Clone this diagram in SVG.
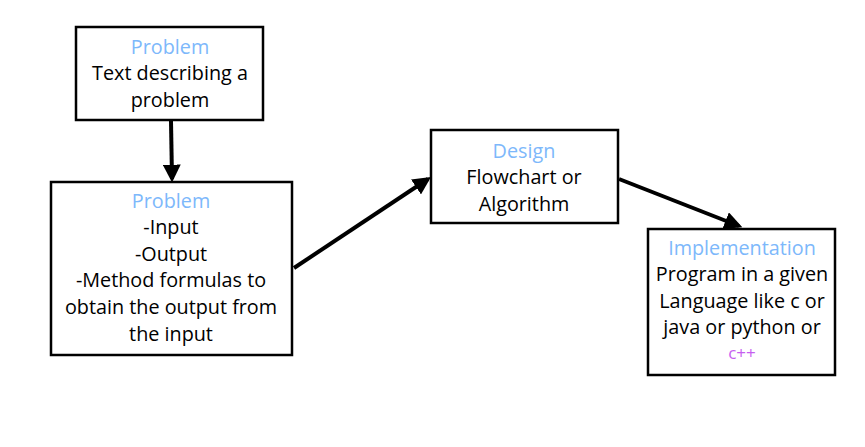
<svg xmlns="http://www.w3.org/2000/svg" width="865" height="447" viewBox="0 0 865 447">
<style>
.box{fill:#fff;stroke:#000;stroke-width:2.5}
.t{font-family:"Open Sans","Liberation Sans",sans-serif;font-size:19.8px;fill:#000;text-anchor:middle}
.h{fill:#7db8fb}
.c{fill:#c65ef0;font-size:17px}
.conn{stroke:#000;stroke-width:4;fill:none}
</style>
<defs>
<marker id="ah" viewBox="0 0 10 10" refX="8" refY="5" markerWidth="4.5" markerHeight="4.5" orient="auto" markerUnits="strokeWidth">
<path d="M0,0 L10,5 L0,10 z" fill="#000"/>
</marker>
</defs>
<rect width="865" height="447" fill="#fff"/>
<g id="connectors">
<line class="conn" x1="171" y1="121" x2="172" y2="179" marker-end="url(#ah)"/>
<line class="conn" x1="294" y1="268" x2="428" y2="179" marker-end="url(#ah)"/>
<line class="conn" x1="619" y1="179" x2="739" y2="226" marker-end="url(#ah)"/>
</g>
<g id="node-problem-text">
<rect class="box" x="76" y="27" width="187" height="93"/>
<text class="t" x="170" y="54"><tspan class="h">Problem</tspan><tspan x="170" y="80">Text describing a</tspan><tspan x="170" y="107">problem</tspan></text>
</g>
<g id="node-problem-spec">
<rect class="box" x="51" y="182" width="241" height="173"/>
<text class="t" x="171" y="208"><tspan class="h">Problem</tspan><tspan x="171" y="234">-Input</tspan><tspan x="171" y="261">-Output</tspan><tspan x="171" y="287">-Method formulas to</tspan><tspan x="171" y="314">obtain the output from</tspan><tspan x="171" y="341">the input</tspan></text>
</g>
<g id="node-design">
<rect class="box" x="431" y="130" width="187" height="93"/>
<text class="t" x="524" y="158"><tspan class="h">Design</tspan><tspan x="524" y="184">Flowchart or</tspan><tspan x="524" y="211">Algorithm</tspan></text>
</g>
<g id="node-implementation">
<rect class="box" x="648" y="229" width="187" height="146"/>
<text class="t" x="742" y="255"><tspan class="h">Implementation</tspan><tspan x="742" y="281">Program in a given</tspan><tspan x="742" y="308">Language like c or</tspan><tspan x="742" y="334">java or python or</tspan><tspan x="742" y="359" class="c">c++</tspan></text>
</g>
</svg>
